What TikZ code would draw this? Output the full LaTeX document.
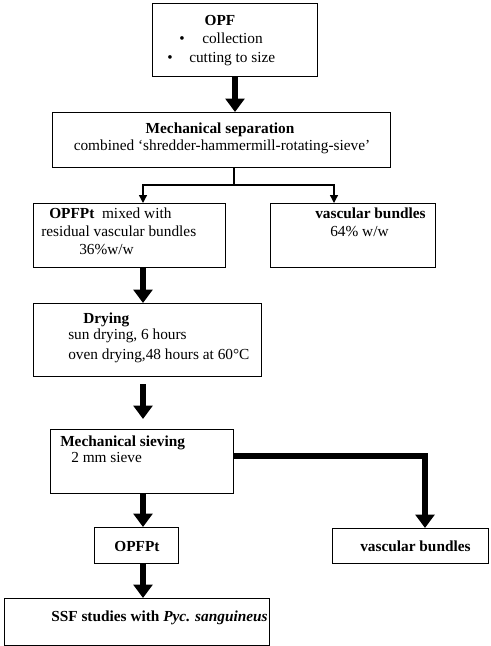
\documentclass[tikz,border=0pt]{standalone}
\usepackage{fontspec}
\setmainfont{Liberation Serif}
\usetikzlibrary{arrows.meta}
\tikzset{
	x=0.75pt, y=-0.75pt,
	every node/.style={font=\fontsize{11.5pt}{13.8pt}\selectfont},
	box/.style={draw, line width=1.1pt, inner sep=0pt},
	txt/.style={anchor=base west, inner sep=0pt},
	ctr/.style={anchor=base, inner sep=0pt},
	bigarrow/.style={line width=3.8pt, -{Triangle[width=14pt,length=10pt]}},
	splitarrow/.style={line width=1pt, -{Triangle[width=6pt,length=6pt]}}
}
\def\flowbox(#1)(#2,#3)(#4,#5){\node[box, anchor=north west, minimum width={#4*0.75pt}, minimum height={#5*0.75pt}] (#1) at (#2,#3) {};}

\begin{document}
\begin{tikzpicture}
			%%%%% START %%%%%
			\useasboundingbox (0,0) rectangle (490,646);
			
			\flowbox(opf)(152,3)(165,73)
			\flowbox(sep)(52,112)(338,55)
			\flowbox(mix)(33,203)(192,64)
			\flowbox(vbone)(270,203)(165,64)
			\flowbox(dry)(33,303)(228,73)
			\flowbox(sieve)(50,429)(183,64)
			\flowbox(opfpt)(94,527)(84,36)
			\flowbox(vbtwo)(332,528)(156,35)
			\flowbox(ssf)(4,598)(265,47)
			
			\node[ctr] (opf-t) at (220,26) {\textbf{OPF}};
			\node[ctr] (opf-b1) at (182,43) {\textbullet};
			\node[txt] (opf-l1) at (202,43) {collection};
			\node[ctr] (opf-b2) at (170,62) {\textbullet};
			\node[txt] (opf-l2) at (189,62) {cutting to size};
			
			\node[ctr] (sep-t) at (220,133) {\textbf{Mechanical separation}};
			\node[ctr] (sep-l) at (222,150) {combined ‘shredder-hammermill-rotating-sieve’};
			
			\node[txt] (mix-l1) at (49,218) {\textbf{OPFPt}\ \ mixed with};
			\node[txt] (mix-l2) at (41,236) {residual vascular bundles};
			\node[txt] (mix-l3) at (79,254) {36\%w/w};
			
			\node[txt] (vbone-t) at (315,218) {\textbf{vascular bundles}};
			\node[txt] (vbone-l) at (330,236) {64\% w/w};
			
			\node[txt] (dry-t) at (83,323) {\textbf{Drying}};
			\node[txt] (dry-l1) at (68,339) {sun drying, 6 hours};
			\node[txt] (dry-l2) at (68,359) {oven drying,48 hours at 60°C};
			
			\node[txt] (sieve-t) at (60,446) {\textbf{Mechanical sieving}};
			\node[txt] (sieve-l) at (71,462) {2 mm sieve};
			
			\node[ctr] (opfpt-t) at (137,551) {\textbf{OPFPt}};
			\node[txt] (vbtwo-t) at (360,551) {\textbf{vascular bundles}};
			\node[txt] (ssf-t) at (51,621) {\textbf{SSF studies with \textit{Pyc. sanguineus}}};
			
			% columns of the arrows
			\coordinate (topcol) at (235,0);
			\coordinate (leftcol) at (143,0);
			\coordinate (rightcol) at (334,0);
			\coordinate (branch) at (234,185);
			\coordinate (sidecol) at (425,456);
			
			\draw[bigarrow] (opf.south -| topcol) -- (sep.north -| topcol);
			
			\draw[line width=1pt] (sep.south -| branch) -- (branch);
			\draw[splitarrow] (branch) -| (mix.north -| leftcol);
			\draw[splitarrow] (branch) -| (vbone.north -| rightcol);
			
			\draw[bigarrow] (mix.south -| leftcol) -- (dry.north -| leftcol);
			\draw[bigarrow, shorten <=5pt, shorten >=7.5pt] (dry.south -| leftcol) -- (sieve.north -| leftcol);
			\draw[bigarrow] (sieve.south -| leftcol) -- (opfpt.north -| leftcol);
			\draw[bigarrow] (opfpt.south -| leftcol) -- (ssf.north -| leftcol);
			
			\draw[bigarrow] (sieve.east |- sidecol) -| (vbtwo.north -| sidecol);
			
			%%%%% END %%%%%
		\end{tikzpicture}
\end{document}
